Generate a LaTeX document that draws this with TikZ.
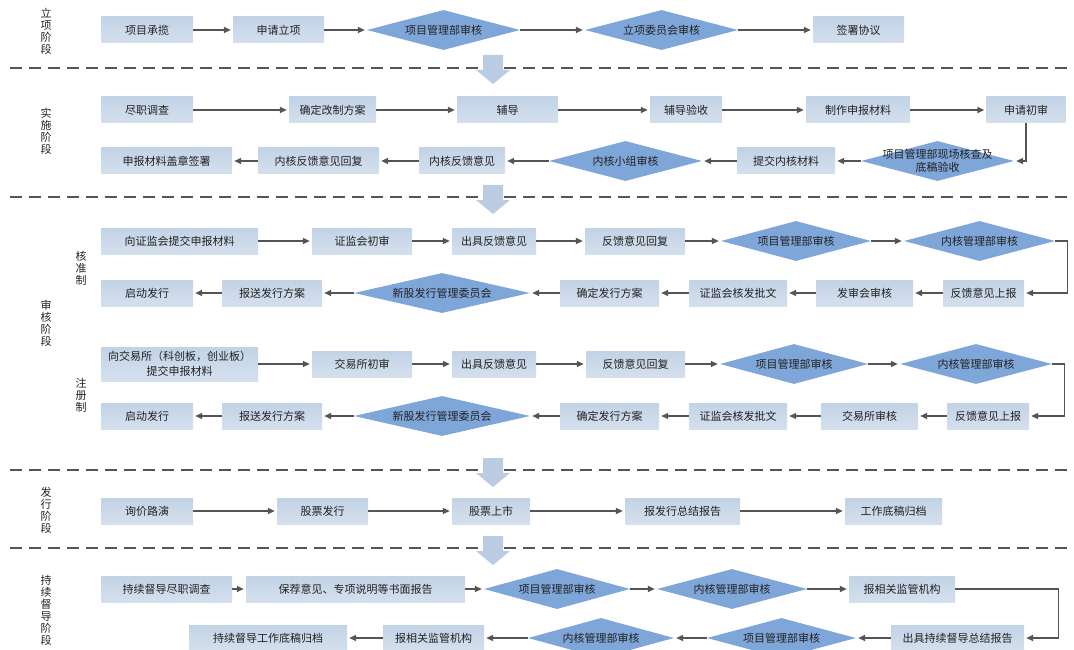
\documentclass[tikz,border=0pt]{standalone}
\usepackage{fontspec}
\setmainfont{Noto Sans CJK SC}
\usetikzlibrary{shapes.geometric,arrows.meta}
\definecolor{boxtop}{HTML}{C2D3E6}
\definecolor{boxbot}{HTML}{D5E0ED}
\definecolor{diacol}{HTML}{7FA6D9}
\definecolor{linec}{HTML}{555555}
\definecolor{blockc}{HTML}{B9CCE1}
\definecolor{txtc}{HTML}{222222}

\begin{document}
\begin{tikzpicture}[x=1pt, y=-1pt,
%draw=black!50,
font=\fontsize{11}{13}\selectfont, text=txtc]
    \tikzstyle{blk}=[rectangle, top color=boxtop, bottom color=boxbot, minimum height=26pt, inner sep=0pt]
    \tikzstyle{dia}=[diamond, aspect=4, fill=diacol, inner sep=0pt, minimum width=150pt, minimum height=40pt]
    \tikzstyle{arr}=[draw=linec, line width=1.4pt, -{Triangle[length=7pt,width=6pt]}, shorten >=2pt]
    \tikzstyle{stage}=[align=center, inner sep=0pt]
    \tikzstyle{sep}=[draw=linec, line width=1.8pt, dash pattern=on 12pt off 7pt]

\useasboundingbox (0,0) rectangle (1074,650);
\clip (0,0) rectangle (1074,650);

\foreach \y in {68,197,470,548}{
\draw[sep] (10,\y) -- (1074,\y);
};
\foreach \t in {55,185,458,536}{
\fill[blockc] (483,\t) -- (503,\t) -- (503,\t+15) -- (510,\t+15) -- (493,\t+29) -- (476,\t+15) -- (483,\t+15) -- cycle;
};

\node[stage] (s1) at (46,31) {立\\[-1pt]项\\[-1pt]阶\\[-1pt]段};
\node[stage] (s2) at (46,131) {实\\[-1pt]施\\[-1pt]阶\\[-1pt]段};
\node[stage] (s3) at (46,323) {审\\[-1pt]核\\[-1pt]阶\\[-1pt]段};
\node[stage] (s4) at (46,510) {发\\[-1pt]行\\[-1pt]阶\\[-1pt]段};
\node[stage] (s5) at (46,610) {持\\[-1pt]续\\[-1pt]督\\[-1pt]导\\[-1pt]阶\\[-1pt]段};
\node[stage] (k1) at (81,268) {核\\[-1pt]准\\[-1pt]制};
\node[stage] (k2) at (81,395) {注\\[-1pt]册\\[-1pt]制};

% li xiang
\node[blk, minimum width=92pt] (a1) at (147,30) {项目承揽};
\node[blk, minimum width=91pt] (a2) at (278.5,30) {申请立项};
\node[dia, minimum width=153pt] (a3) at (443.5,30) {项目管理部审核};
\node[dia, minimum width=153pt] (a4) at (661.5,30) {立项委员会审核};
\node[blk, minimum width=91pt] (a5) at (858.5,30) {签署协议};
\draw[arr] (a1) -- (a2);
\draw[arr] (a2) -- (a3);
\draw[arr] (a3) -- (a4);
\draw[arr] (a4) -- (a5);

% shi shi
\node[blk, minimum width=92pt] (b1) at (147,110) {尽职调查};
\node[blk, minimum width=87pt] (b2) at (332.5,110) {确定改制方案};
\node[blk, minimum width=101pt] (b3) at (507.5,110) {辅导};
\node[blk, minimum width=72pt] (b4) at (686,110) {辅导验收};
\node[blk, minimum width=104pt] (b5) at (858,110) {制作申报材料};
\node[blk, minimum width=79pt] (b6) at (1026,110) {申请初审};
\node[dia, minimum width=153pt] (c6) at (937.5,161) {\makebox[0pt]{\shortstack{项目管理部现场核查及\\底稿验收}}};
\node[blk, minimum width=98pt] (c5) at (786,161) {提交内核材料};
\node[dia, minimum width=153pt] (c4) at (625.5,161) {内核小组审核};
\node[blk, minimum width=86pt] (c3) at (462,161) {内核反馈意见};
\node[blk, minimum width=121pt] (c2) at (318.5,161) {内核反馈意见回复};
\node[blk, minimum width=131pt] (c1) at (166.5,161) {申报材料盖章签署};
\draw[arr] (b1) -- (b2);
\draw[arr] (b2) -- (b3);
\draw[arr] (b3) -- (b4);
\draw[arr] (b4) -- (b5);
\draw[arr] (b5) -- (b6);
\draw[arr] (b6) |- (c6);
\draw[arr] (c6) -- (c5);
\draw[arr] (c5) -- (c4);
\draw[arr] (c4) -- (c3);
\draw[arr] (c3) -- (c2);
\draw[arr] (c2) -- (c1);

% he zhun zhi
\node[blk, minimum width=157pt] (d1) at (179.5,241) {向证监会提交申报材料};
\node[blk, minimum width=100pt] (d2) at (362,241) {证监会初审};
\node[blk, minimum width=84pt] (d3) at (494,241) {出具反馈意见};
\node[blk, minimum width=100pt] (d4) at (635,241) {反馈意见回复};
\node[dia, minimum width=150pt] (d5) at (796,241) {项目管理部审核};
\node[dia, minimum width=151pt] (d6) at (979.5,241) {内核管理部审核};
\node[blk, minimum width=81pt] (e7) at (983.5,293) {反馈意见上报};
\node[blk, minimum width=97pt] (e6) at (864.5,293) {发审会审核};
\node[blk, minimum width=98pt] (e5) at (738,293) {证监会核发批文};
\node[blk, minimum width=99pt] (e4) at (609.5,293) {确定发行方案};
\node[dia, minimum width=176pt] (e3) at (442,293) {新股发行管理委员会};
\node[blk, minimum width=100pt] (e2) at (272,293) {报送发行方案};
\node[blk, minimum width=92pt] (e1) at (147,293) {启动发行};
\draw[arr] (d1) -- (d2);
\draw[arr] (d2) -- (d3);
\draw[arr] (d3) -- (d4);
\draw[arr] (d4) -- (d5);
\draw[arr] (d5) -- (d6);
\draw[arr] (d6.east) -- ++(12,0) |- (e7);
\draw[arr] (e7) -- (e6);
\draw[arr] (e6) -- (e5);
\draw[arr] (e5) -- (e4);
\draw[arr] (e4) -- (e3);
\draw[arr] (e3) -- (e2);
\draw[arr] (e2) -- (e1);

% zhu ce zhi
\node[blk, minimum width=157pt, minimum height=34pt, align=center, font=\fontsize{11}{15}\selectfont] (f1) at (179.5,364) {向交易所（科创板，创业板）\\提交申报材料};
\node[blk, minimum width=100pt] (f2) at (362,364) {交易所初审};
\node[blk, minimum width=84pt] (f3) at (494,364) {出具反馈意见};
\node[blk, minimum width=99pt] (f4) at (635.5,364) {反馈意见回复};
\node[dia, minimum width=148pt] (f5) at (794,364) {项目管理部审核};
\node[dia, minimum width=152pt] (f6) at (976,364) {内核管理部审核};
\node[blk, minimum width=82pt] (g7) at (988,416) {反馈意见上报};
\node[blk, minimum width=97pt] (g6) at (869.5,416) {交易所审核};
\node[blk, minimum width=98pt] (g5) at (738,416) {证监会核发批文};
\node[blk, minimum width=99pt] (g4) at (609.5,416) {确定发行方案};
\node[dia, minimum width=176pt] (g3) at (442,416) {新股发行管理委员会};
\node[blk, minimum width=100pt] (g2) at (272,416) {报送发行方案};
\node[blk, minimum width=92pt] (g1) at (147,416) {启动发行};
\draw[arr] (f1) -- (f2);
\draw[arr] (f2) -- (f3);
\draw[arr] (f3) -- (f4);
\draw[arr] (f4) -- (f5);
\draw[arr] (f5) -- (f6);
\draw[arr] (f6.east) -- ++(12,0) |- (g7);
\draw[arr] (g7) -- (g6);
\draw[arr] (g6) -- (g5);
\draw[arr] (g5) -- (g4);
\draw[arr] (g4) -- (g3);
\draw[arr] (g3) -- (g2);
\draw[arr] (g2) -- (g1);

% fa xing
\node[blk, minimum width=92pt] (h1) at (147,511) {询价路演};
\node[blk, minimum width=91pt] (h2) at (322.5,511) {股票发行};
\node[blk, minimum width=78pt] (h3) at (491,511) {股票上市};
\node[blk, minimum width=115pt] (h4) at (682.5,511) {报发行总结报告};
\node[blk, minimum width=97pt] (h5) at (893.5,511) {工作底稿归档};
\draw[arr] (h1) -- (h2);
\draw[arr] (h2) -- (h3);
\draw[arr] (h3) -- (h4);
\draw[arr] (h4) -- (h5);

% chi xu du dao
\node[blk, minimum width=131pt] (i1) at (166.5,589) {持续督导尽职调查};
\node[blk, minimum width=219pt] (i2) at (355.5,589) {保荐意见、专项说明等书面报告};
\node[dia, minimum width=146pt] (i3) at (557,589) {项目管理部审核};
\node[dia, minimum width=150pt] (i4) at (732,589) {内核管理部审核};
\node[blk, minimum width=106pt] (i5) at (902,589) {报相关监管机构};
\node[blk, minimum width=133pt] (j5) at (957.5,638) {出具持续督导总结报告};
\node[dia, minimum width=149pt] (j4) at (781.5,638) {项目管理部审核};
\node[dia, minimum width=146pt] (j3) at (601,638) {内核管理部审核};
\node[blk, minimum width=101pt] (j2) at (433.5,638) {报相关监管机构};
\node[blk, minimum width=158pt] (j1) at (268,638) {持续督导工作底稿归档};
\draw[arr] (i1) -- (i2);
\draw[arr] (i2) -- (i3);
\draw[arr] (i3) -- (i4);
\draw[arr] (i4) -- (i5);
\draw[arr] (i5.east) -- ++(103,0) |- (j5);
\draw[arr] (j5) -- (j4);
\draw[arr] (j4) -- (j3);
\draw[arr] (j3) -- (j2);
\draw[arr] (j2) -- (j1);
\end{tikzpicture}
\end{document}
